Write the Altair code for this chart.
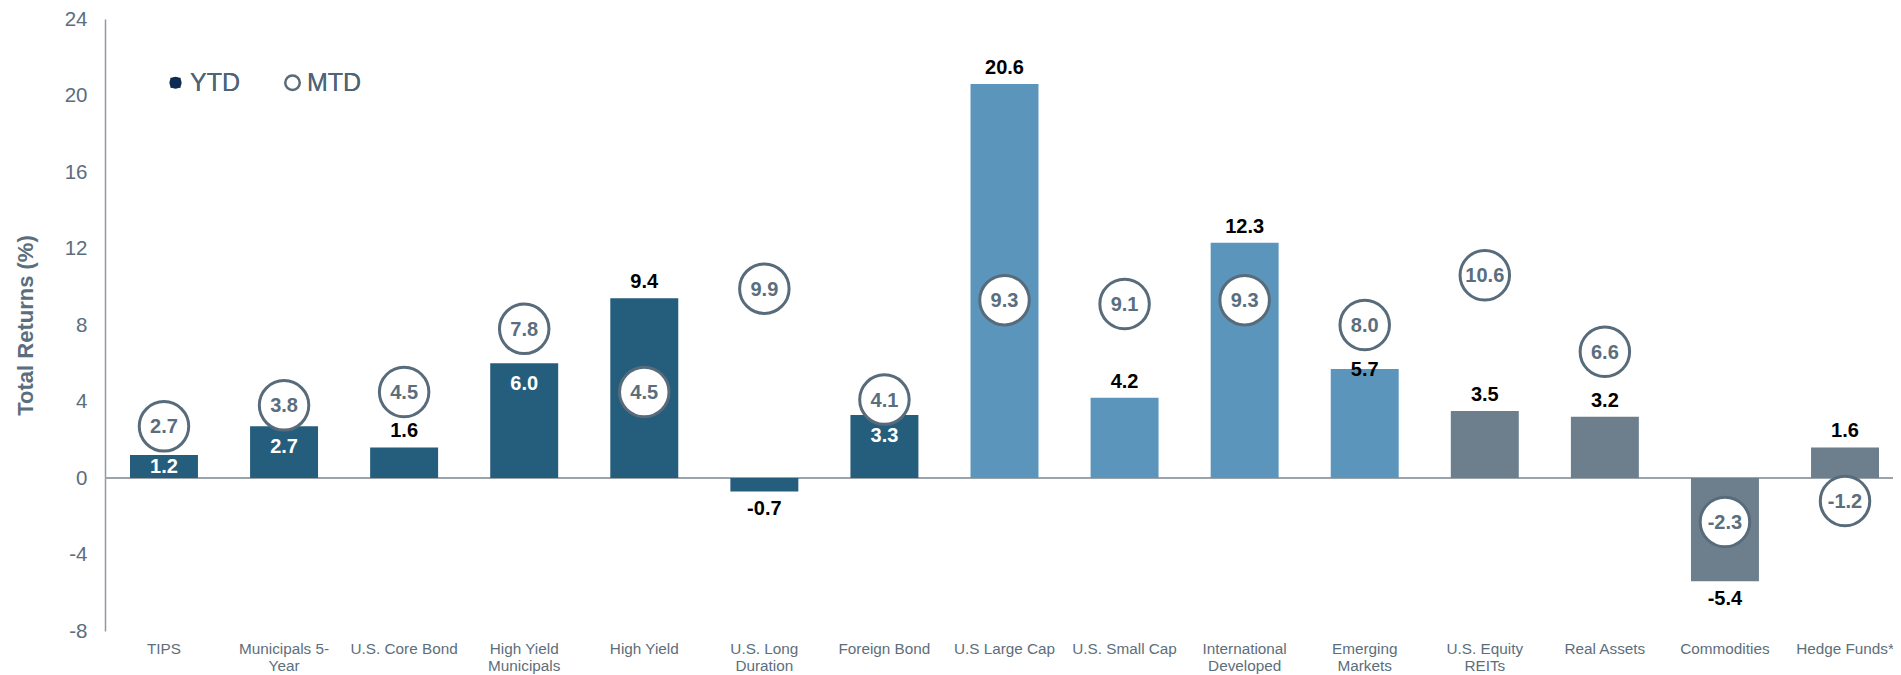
import altair as alt
import pandas as pd

categories = [
    "TIPS", "Municipals 5-\nYear", "U.S. Core Bond", "High Yield\nMunicipals",
    "High Yield", "U.S. Long\nDuration", "Foreign Bond", "U.S Large Cap",
    "U.S. Small Cap", "International\nDeveloped", "Emerging\nMarkets",
    "U.S. Equity\nREITs", "Real Assets", "Commodities", "Hedge Funds*",
]
ytd = [1.2, 2.7, 1.6, 6.0, 9.4, -0.7, 3.3, 20.6, 4.2, 12.3, 5.7, 3.5, 3.2, -5.4, 1.6]
mtd = [2.7, 3.8, 4.5, 7.8, 4.5, 9.9, 4.1, 9.3, 9.1, 9.3, 8.0, 10.6, 6.6, -2.3, -1.2]
groups = ["Fixed Income"] * 7 + ["Equity"] * 4 + ["Real Assets & Alternatives"] * 4
group_names = ["Fixed Income", "Equity", "Real Assets & Alternatives"]
group_colors = ["#255e7d", "#5b95bb", "#6d7f8d"]
legend_series = ["YTD", "MTD"]
y_ticks = [-8, -4, 0, 4, 8, 12, 16, 20, 24]

FONT = "Liberation Sans, Arial, Helvetica, sans-serif"
SLATE = "#576b7b"
NAVY = "#0c2c56"

df = pd.DataFrame({"cat": categories, "ytd": ytd, "mtd": mtd, "group": groups})
df["ytd_txt"] = [f"{v:.1f}" for v in ytd]
df["mtd_txt"] = [f"{v:.1f}" for v in mtd]

x_enc = alt.X(
    "cat:N",
    sort=categories,
    scale=alt.Scale(range=[25, 1774], paddingInner=0.434, paddingOuter=0),
    axis=alt.Axis(
        title=None, labelAngle=0, domain=False, ticks=False, labelPadding=10,
        labelFontSize=15.3, labelColor="#5d6e7b", labelFont=FONT,
        labelLineHeight=17, labelExpr="split(datum.label, '\\n')",
    ),
)
y_scale = alt.Scale(domain=[-8, 24], nice=False, zero=False)
y_axis = alt.Axis(
    values=y_ticks, title="Total Returns (%)", grid=False, ticks=False,
    domain=True, domainColor="#8e99a2", domainWidth=1.5,
    labelFontSize=20.5, labelColor="#5b6e7d", labelFont=FONT, labelPadding=18,
    labelExpr="datum.value + ''",
    titleFontSize=22, titleFont=FONT, titleFontWeight="bold", titleColor="#5b6e7d",
    titlePadding=27,
)

base = alt.Chart(df)

zero = base.mark_rule(color="#9aa3aa", strokeWidth=2).encode(y=alt.datum(0, scale=y_scale))

bars = base.mark_bar().encode(
    x=x_enc,
    y=alt.Y("ytd:Q", scale=y_scale, axis=y_axis),
    color=alt.Color("group:N", scale=alt.Scale(domain=group_names, range=group_colors), legend=None),
)

# label placement derived from the gap between the MTD circle and the YTD bar top
lab = base.transform_calculate(
    gap="datum.mtd - datum.ytd",
).transform_calculate(
    place="datum.ytd < 0 ? 'below' : (datum.gap >= 0 && datum.gap < 2 ? 'inside' : (datum.gap >= 2 && datum.gap < 2.5 ? 'edge' : 'above'))",
    ly="max(datum.ytd - 1.1, datum.ytd / 2)",
)
txt_kw = dict(font=FONT, fontWeight="bold", fontSize=20, baseline="middle", align="center")
X_PLAIN = alt.X("cat:N", sort=categories)
inside_lab = lab.transform_filter("datum.place == 'inside'").mark_text(color="white", **txt_kw).encode(
    x=X_PLAIN, y=alt.Y("ly:Q", scale=y_scale), text="ytd_txt:N")
above_lab = lab.transform_filter("datum.place == 'above'").mark_text(color="black", dy=-16, **txt_kw).encode(
    x=X_PLAIN, y=alt.Y("ytd:Q", scale=y_scale), text="ytd_txt:N")
edge_lab = lab.transform_filter("datum.place == 'edge'").mark_text(color="black", dy=1, **txt_kw).encode(
    x=X_PLAIN, y=alt.Y("ytd:Q", scale=y_scale), text="ytd_txt:N")
below_lab = lab.transform_filter("datum.place == 'below'").mark_text(color="black", dy=18, **txt_kw).encode(
    x=X_PLAIN, y=alt.Y("ytd:Q", scale=y_scale), text="ytd_txt:N")

circles = base.mark_point(shape="circle", filled=True, fill="white", stroke=SLATE,
                          strokeWidth=3, size=2450, opacity=1).encode(
    x=X_PLAIN, y=alt.Y("mtd:Q", scale=y_scale))
circ_txt = base.mark_text(color="#5a6e7e", dy=1, **txt_kw).encode(
    x=X_PLAIN, y=alt.Y("mtd:Q", scale=y_scale), text="mtd_txt:N")

leg = alt.Legend(
    title=None, orient="none", legendX=58, legendY=51, direction="horizontal",
    labelFontSize=25, labelFont=FONT, labelColor="#4f6476",
    symbolStrokeWidth=2.5, symbolOpacity=1, columnPadding=40, labelOffset=2, padding=0,
)
legend_df = pd.DataFrame({"series": legend_series})
legend_layer = alt.Chart(legend_df).mark_point(opacity=0).encode(
    shape=alt.Shape("series:N", sort=legend_series,
                    scale=alt.Scale(domain=legend_series, range=["square", "circle"]), legend=leg),
    fill=alt.Fill("series:N", sort=legend_series,
                  scale=alt.Scale(domain=legend_series, range=[NAVY, "white"]), legend=leg),
    stroke=alt.Stroke("series:N", sort=legend_series,
                      scale=alt.Scale(domain=legend_series, range=["transparent", SLATE]), legend=leg),
    size=alt.Size("series:N", sort=legend_series,
                  scale=alt.Scale(domain=legend_series, range=[150, 210]), legend=leg),
)

chart = alt.layer(
    zero, bars, inside_lab, above_lab, edge_lab, below_lab, circles, circ_txt, legend_layer
).resolve_scale(
    fill="independent", stroke="independent", size="independent"
).properties(
    width=1788, height=612,
    autosize=alt.AutoSizeParams(type="none"),
    padding={"left": 97, "top": 11, "right": 0, "bottom": 44},
).configure_view(stroke=None)

chart.save("out.html", embed_options={"renderer": "svg", "actions": False})
